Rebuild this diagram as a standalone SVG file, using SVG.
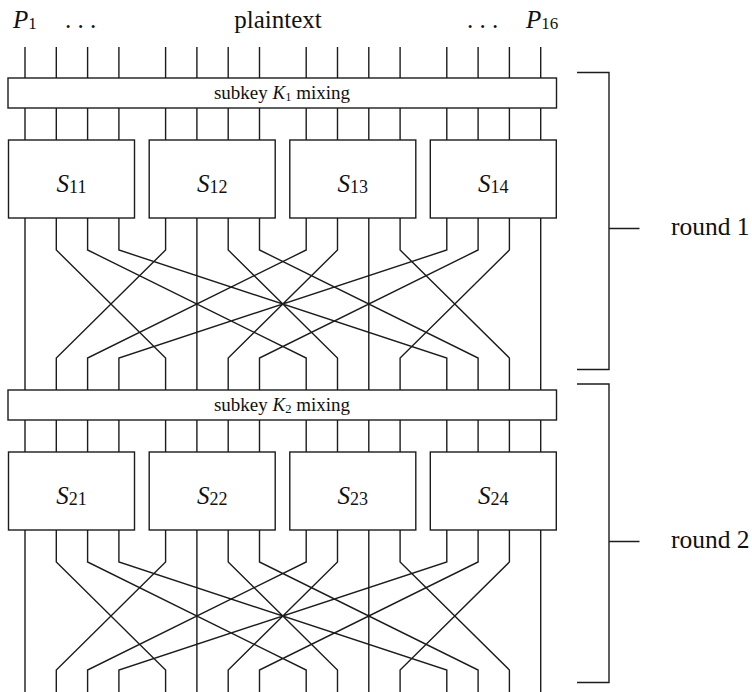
<svg xmlns="http://www.w3.org/2000/svg" width="752" height="692" viewBox="0 0 752 692">
<style>
.ln{fill:none;stroke:#1c1c1c;stroke-width:1.4;stroke-linejoin:miter}
.bx{fill:#fff;stroke:#1c1c1c;stroke-width:1.4}
.t{font-family:"Liberation Serif","Times New Roman",serif;fill:#111}
.big{font-size:25px}
.rl{font-size:25.5px}
.sm{font-size:19px}
.it{font-style:italic}
</style>
<rect width="752" height="692" fill="#fff"/>
<g id="connectors" class="ln">
<path d="M25,47V78M56.3,47V78M87.6,47V78M118.9,47V78M165.6,47V78M196.9,47V78M228.2,47V78M259.5,47V78M306.2,47V78M337.5,47V78M368.8,47V78M400.1,47V78M446.8,47V78M478.1,47V78M509.4,47V78M540.7,47V78"/>
<path d="M25,108V140M56.3,108V140M87.6,108V140M118.9,108V140M165.6,108V140M196.9,108V140M228.2,108V140M259.5,108V140M306.2,108V140M337.5,108V140M368.8,108V140M400.1,108V140M446.8,108V140M478.1,108V140M509.4,108V140M540.7,108V140"/>
<path d="M25,218V390
M56.3,218V250L165.6,358V390
M87.6,218V250L306.2,358V390
M118.9,218V250L446.8,358V390
M165.6,218V250L56.3,358V390
M196.9,218V390
M228.2,218V250L337.5,358V390
M259.5,218V250L478.1,358V390
M306.2,218V250L87.6,358V390
M337.5,218V250L228.2,358V390
M368.8,218V390
M400.1,218V250L509.4,358V390
M446.8,218V250L118.9,358V390
M478.1,218V250L259.5,358V390
M509.4,218V250L400.1,358V390
M540.7,218V390"/>
<path d="M25,420V452M56.3,420V452M87.6,420V452M118.9,420V452M165.6,420V452M196.9,420V452M228.2,420V452M259.5,420V452M306.2,420V452M337.5,420V452M368.8,420V452M400.1,420V452M446.8,420V452M478.1,420V452M509.4,420V452M540.7,420V452"/>
<path d="M25,530V692
M56.3,530V562L165.6,670V692
M87.6,530V562L306.2,670V692
M118.9,530V562L446.8,670V692
M165.6,530V562L56.3,670V692
M196.9,530V692
M228.2,530V562L337.5,670V692
M259.5,530V562L478.1,670V692
M306.2,530V562L87.6,670V692
M337.5,530V562L228.2,670V692
M368.8,530V692
M400.1,530V562L509.4,670V692
M446.8,530V562L118.9,670V692
M478.1,530V562L259.5,670V692
M509.4,530V562L400.1,670V692
M540.7,530V692"/>
</g>
<g id="input-labels" class="t big">
<text x="13" y="28"><tspan class="it">P</tspan><tspan font-size="17" dy="1">1</tspan></text>
<text x="65" y="28">. . .</text>
<text x="278" y="28" text-anchor="middle">plaintext</text>
<text x="467" y="28">. . .</text>
<text x="526" y="28"><tspan class="it">P</tspan><tspan font-size="17" dy="1">16</tspan></text>
</g>
<g id="mix1">
<rect class="bx" x="8" y="78" width="548.5" height="30"/>
<text class="t sm" x="282" y="99" text-anchor="middle">subkey <tspan class="it">K</tspan><tspan font-size="12.5" dy="2">1</tspan><tspan dy="-2"> mixing</tspan></text>
</g>
<g id="S11"><rect class="bx" x="8.5" y="140" width="126" height="78"/><text class="t big" x="71.5" y="192" text-anchor="middle"><tspan class="it">S</tspan><tspan font-size="18" dy="1">11</tspan></text></g>
<g id="S12"><rect class="bx" x="149.2" y="140" width="126" height="78"/><text class="t big" x="212.2" y="192" text-anchor="middle"><tspan class="it">S</tspan><tspan font-size="18" dy="1">12</tspan></text></g>
<g id="S13"><rect class="bx" x="289.8" y="140" width="126" height="78"/><text class="t big" x="352.8" y="192" text-anchor="middle"><tspan class="it">S</tspan><tspan font-size="18" dy="1">13</tspan></text></g>
<g id="S14"><rect class="bx" x="430.3" y="140" width="126" height="78"/><text class="t big" x="493.3" y="192" text-anchor="middle"><tspan class="it">S</tspan><tspan font-size="18" dy="1">14</tspan></text></g>
<g id="mix2">
<rect class="bx" x="8" y="390" width="548.5" height="30"/>
<text class="t sm" x="282" y="411" text-anchor="middle">subkey <tspan class="it">K</tspan><tspan font-size="12.5" dy="2">2</tspan><tspan dy="-2"> mixing</tspan></text>
</g>
<g id="S21"><rect class="bx" x="8.5" y="452" width="126" height="78"/><text class="t big" x="71.5" y="504" text-anchor="middle"><tspan class="it">S</tspan><tspan font-size="18" dy="1">21</tspan></text></g>
<g id="S22"><rect class="bx" x="149.2" y="452" width="126" height="78"/><text class="t big" x="212.2" y="504" text-anchor="middle"><tspan class="it">S</tspan><tspan font-size="18" dy="1">22</tspan></text></g>
<g id="S23"><rect class="bx" x="289.8" y="452" width="126" height="78"/><text class="t big" x="352.8" y="504" text-anchor="middle"><tspan class="it">S</tspan><tspan font-size="18" dy="1">23</tspan></text></g>
<g id="S24"><rect class="bx" x="430.3" y="452" width="126" height="78"/><text class="t big" x="493.3" y="504" text-anchor="middle"><tspan class="it">S</tspan><tspan font-size="18" dy="1">24</tspan></text></g>
<g id="round1">
<path class="ln" d="M577,72.5H609V369.5H577M609,228.5H639.5"/>
<text class="t rl" x="671" y="235">round 1</text>
</g>
<g id="round2">
<path class="ln" d="M577,384H609V682.5H577M609,541.5H639.5"/>
<text class="t rl" x="671" y="548">round 2</text>
</g>
</svg>
